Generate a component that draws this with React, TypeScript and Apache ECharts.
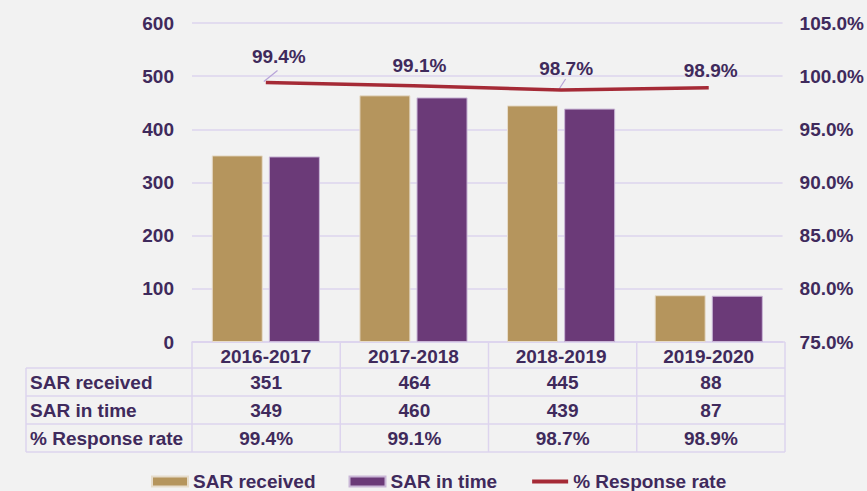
import React, { useEffect, useRef } from "react";
import * as echarts from "echarts";

const categories = ["2016-2017", "2017-2018", "2018-2019", "2019-2020"];
const sarReceived = [351, 464, 445, 88];
const sarInTime = [349, 460, 439, 87];
const responseRate = [99.4, 99.1, 98.7, 98.9];
const leftTicks = [0, 100, 200, 300, 400, 500, 600];
const rowLabels = ["SAR received", "SAR in time", "% Response rate"];

const W = 867;
const H = 491;
const TEXT = "#3f2a5c";
const GOLD = "#b5955d";
const PURPLE = "#6b3a78";
const RED = "#a52a36";
const GRID = "#ddd4ee";
const FONT = "'Liberation Sans', Arial, sans-serif";

export default function App() {
  const ref = useRef<HTMLDivElement>(null);
  useEffect(() => {
    document.body.style.margin = "0";
    const chart = echarts.init(ref.current!, null, { renderer: "svg" });
    const gLeft = 192, gRight = 785, gTop = 23, gBottom = 342;
    const labelOffsets = [[13, -12], [6, -6], [5, -7], [2, -3]];
    const option: any = {
      animation: false,
      backgroundColor: "#f2f2f2",
      textStyle: { fontFamily: FONT, fontWeight: "bold", color: TEXT },
      grid: { left: gLeft, right: W - gRight, top: gTop, bottom: H - gBottom, containLabel: false },
      legend: {
        left: 146,
        top: 467,
        itemWidth: 36,
        itemHeight: 10,
        itemGap: 33,
        textStyle: { fontFamily: FONT, fontWeight: "bold", fontSize: 19, color: TEXT },
        data: [
          { name: "SAR received", icon: "rect" },
          { name: "SAR in time", icon: "rect" },
          { name: "% Response rate", itemStyle: { opacity: 0 }, lineStyle: { width: 4, color: RED } },
        ],
      },
      xAxis: {
        type: "category",
        data: categories,
        axisLine: { lineStyle: { color: GRID, width: 1.5 } },
        axisTick: { show: false },
        axisLabel: { margin: 5, fontSize: 19, fontWeight: "bold", color: TEXT, fontFamily: FONT },
      },
      yAxis: [
        {
          type: "value",
          min: leftTicks[0],
          max: leftTicks[leftTicks.length - 1],
          interval: 100,
          axisLabel: { margin: 18, fontSize: 19, fontWeight: "bold", color: TEXT, fontFamily: FONT },
          splitLine: { lineStyle: { color: GRID, width: 1.5 } },
          axisLine: { show: false },
          axisTick: { show: false },
        },
        {
          type: "value",
          min: 75,
          max: 105,
          interval: 5,
          position: "right",
          axisLabel: {
            margin: 17,
            fontSize: 19,
            fontWeight: "bold",
            color: TEXT,
            fontFamily: FONT,
            formatter: (v: number) => v.toFixed(1) + "%",
          },
          splitLine: { show: false },
          axisLine: { show: false },
          axisTick: { show: false },
        },
      ],
      series: [
        {
          name: "SAR received",
          type: "bar",
          data: sarReceived,
          barWidth: 51,
          barGap: "12%",
          itemStyle: { color: GOLD, borderColor: "#e6dccb", borderWidth: 1 },
        },
        {
          name: "SAR in time",
          type: "bar",
          data: sarInTime,
          barWidth: 51,
          itemStyle: { color: PURPLE, borderColor: "#c9b6d6", borderWidth: 1 },
        },
        {
          name: "% Response rate",
          type: "line",
          yAxisIndex: 1,
          symbol: "circle",
          symbolSize: 1,
          showSymbol: true,
          lineStyle: { color: RED, width: 3.5 },
          itemStyle: { color: "rgba(0,0,0,0)", borderWidth: 0 },
          data: responseRate.map((v, i) => ({
            value: v,
            label: { offset: labelOffsets[i] },
          })),
          label: {
            show: true,
            position: "top",
            distance: 4,
            fontSize: 19,
            fontWeight: "bold",
            color: TEXT,
            fontFamily: FONT,
            formatter: (p: any) => p.value.toFixed(1) + "%",
          },
        },
      ],
    };
    chart.setOption(option);

    const colW = (gRight - gLeft) / categories.length;
    const rowTop = [368, 396, 424, 452];
    const headTop = gBottom;
    const lineStyle = { stroke: GRID, lineWidth: 1.5 };
    const els: any[] = [];
    els.push({ type: "line", shape: { x1: gLeft, y1: headTop, x2: gRight, y2: headTop }, style: lineStyle });
    rowTop.forEach((y) =>
      els.push({ type: "line", shape: { x1: 26, y1: y, x2: gRight, y2: y }, style: lineStyle })
    );
    els.push({ type: "line", shape: { x1: 26, y1: rowTop[0], x2: 26, y2: rowTop[3] }, style: lineStyle });
    for (let i = 0; i <= categories.length; i++) {
      const x = gLeft + i * colW;
      els.push({ type: "line", shape: { x1: x, y1: headTop, x2: x, y2: rowTop[3] }, style: lineStyle });
    }
    const rows = [
      sarReceived.map(String),
      sarInTime.map(String),
      responseRate.map((v) => v.toFixed(1) + "%"),
    ];
    rows.forEach((vals, r) => {
      const yc = (rowTop[r] + rowTop[r + 1]) / 2;
      els.push({
        type: "text",
        x: 30,
        y: yc,
        style: { text: rowLabels[r], fill: TEXT, font: `bold 19px ${FONT}`, verticalAlign: "middle" },
      });
      vals.forEach((t, c) => {
        els.push({
          type: "text",
          x: gLeft + (c + 0.5) * colW,
          y: yc,
          style: { text: t, fill: TEXT, font: `bold 19px ${FONT}`, align: "center", verticalAlign: "middle" },
        });
      });
    });
    [[0, 13, 10], [2, 5, 9]].forEach(([i, dx, len]) => {
      const p = chart.convertToPixel({ xAxisIndex: 0, yAxisIndex: 1 } as any, [i, responseRate[i]]) as number[];
      els.push({
        type: "line",
        shape: { x1: p[0] - 2, y1: p[1] - 1, x2: p[0] + dx * 0.9, y2: p[1] - len - 2 },
        style: { stroke: "#b7a3d8", lineWidth: 1.2 },
      });
    });
    chart.setOption({ graphic: { elements: els } });
    return () => chart.dispose();
  }, []);
  return <div ref={ref} style={{ width: W, height: H }} />;
}
